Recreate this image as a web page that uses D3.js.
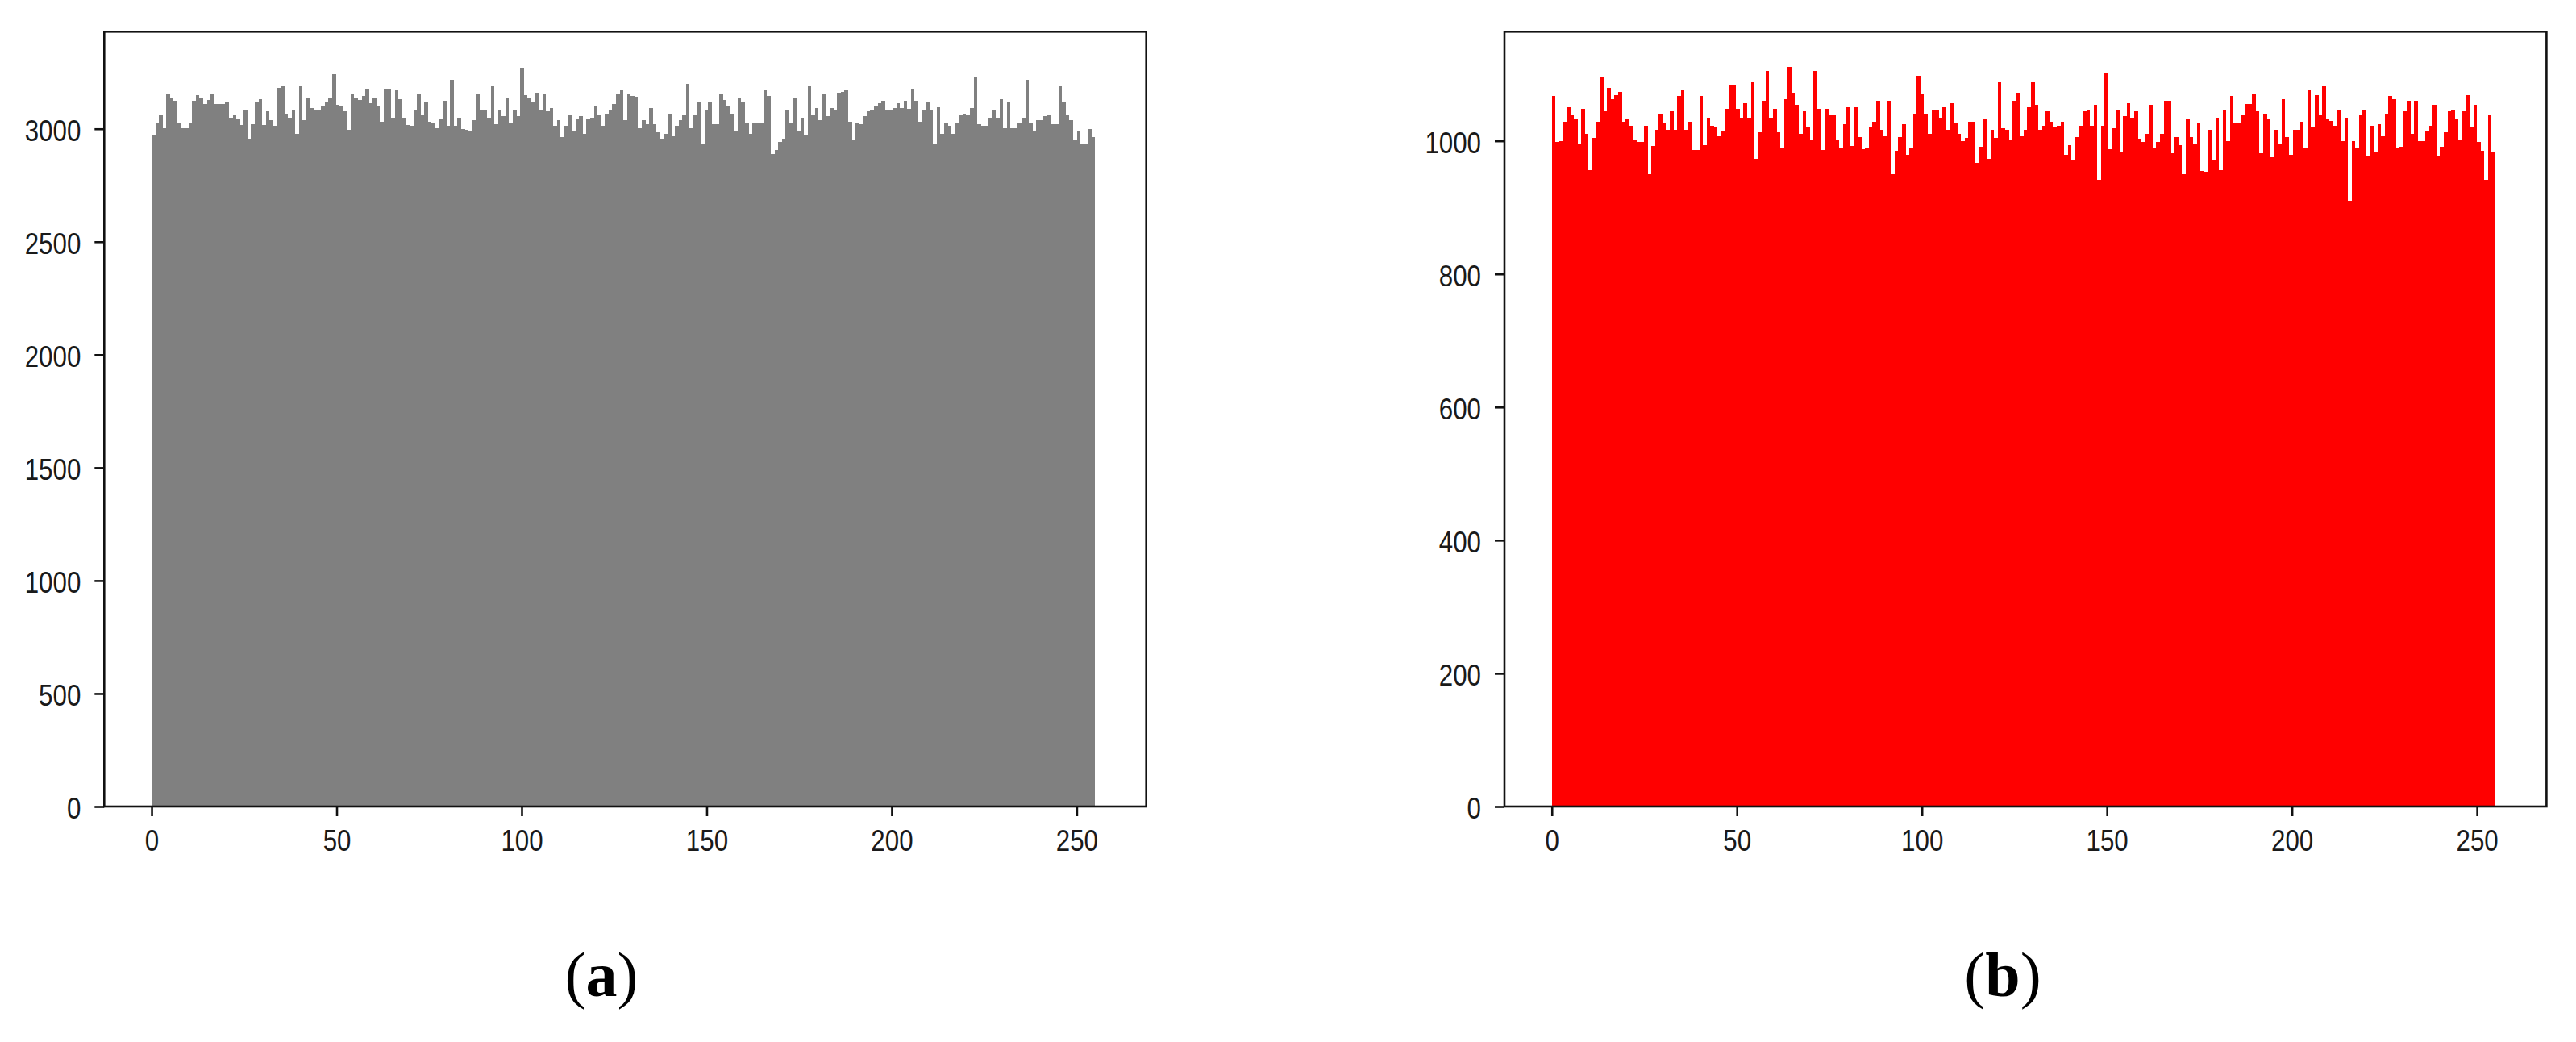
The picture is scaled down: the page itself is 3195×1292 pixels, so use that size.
<!DOCTYPE html>
<html>
<head>
<meta charset="utf-8">
<script src="https://cdn.jsdelivr.net/npm/d3@7"></script>
<style>
  html, body { margin: 0; padding: 0; background: #fff; }
  svg { display: block; }
  .tick text { font-family: "Liberation Sans", Arial, sans-serif; fill: #1a1a1a; }
  .caption { font-family: "Liberation Serif", "Times New Roman", serif; fill: #000; }
</style>
</head>
<body>
<svg id="chart" width="3195" height="1292"></svg>
<script>
// ---- data ----
const pixelLevels = d3.range(256);           // histogram bins 0..255
const xTicks = [0, 50, 100, 150, 200, 250];
const yTicksA = [0, 500, 1000, 1500, 2000, 2500, 3000];
const yTicksB = [0, 200, 400, 600, 800, 1000];
const captions = ["a", "b"];

// (a) grey-level histogram counts
const countsA = [
  2975, 3029, 3060, 3002, 3151, 3139, 3124, 3029, 3002, 3002,
  3026, 3124, 3148, 3133, 3109, 3127, 3151, 3109, 3109, 3109,
  3121, 3050, 3060, 3044, 3017, 3080, 2957, 3020, 3121, 3131,
  3017, 3076, 3040, 3014, 3181, 3187, 3068, 3050, 3086, 2979,
  3187, 3038, 3139, 3092, 3080, 3080, 3104, 3119, 3133, 3243,
  3107, 3098, 3076, 2996, 3151, 3133, 3127, 3145, 3179, 3115,
  3133, 3098, 3032, 3179, 3179, 3050, 3169, 3131, 3050, 3017,
  3014, 3086, 3151, 3064, 3121, 3032, 3024, 3002, 3044, 3124,
  3014, 3217,
  3014, 3050, 3000, 2996, 2990, 3038, 3151, 3086, 3080, 3050,
  3187, 3020, 3086, 3056, 3139, 3029, 3086, 3056, 3270, 3148,
  3139, 3121, 3159, 3086, 3151, 3076, 3092, 3014, 3038, 2964,
  3014, 3064, 2990, 3044, 3056, 2979, 3044, 3050, 3104, 3062,
  3014, 3068, 3086, 3109, 3151, 3169, 3040, 3151, 3145, 3143,
  3002, 3040, 3020, 3092, 3020, 2985, 2957, 2979, 3068, 2967,
  3014, 3038, 3062, 3199, 3002, 3062, 3121, 2931, 3080, 3121,
  3020, 3020, 3151, 3127, 3098, 3068, 2993, 3139, 3121, 3029,
  2979, 3029, 3029, 3029, 3169, 3145, 2889, 2907, 2943, 2955,
  3086, 3029, 3139, 2990, 3050, 2973, 3187, 3064, 3092, 3040,
  3151, 3056, 3092, 3080, 3159, 3163, 3169, 3032, 2949, 3026,
  3020, 3056, 3076, 3083, 3098, 3112, 3124, 3086, 3080, 3092,
  3112, 3092, 3124, 3088, 3179, 3124, 3032, 3083, 3121, 3086,
  2931, 3095, 2979, 3029, 3014, 2979, 3029, 3064, 3068, 3062,
  3092, 3226, 3020, 3014, 3012, 3048, 3086, 3050, 3131, 3002,
  3121, 3002, 3002, 3029, 3050, 3217, 3029, 2993, 3038, 3038,
  3055, 3064, 3020, 3020, 3187, 3121, 3064, 3040, 2949, 2993,
  2931, 2931, 3000, 2964
];

// (b) red-channel histogram counts
const countsB = [
  1067, 998, 1000, 1029, 1050, 1039, 1033, 995, 1048, 1010,
  956, 1004, 1029, 1096, 1045, 1080, 1063, 1069, 1073, 1029,
  1033, 1023, 1001, 998, 998, 1023, 950, 992, 1016, 1041,
  1026, 1016, 1045, 1016, 1067, 1077, 1016, 1029, 986, 986,
  1067, 994, 1035, 1023, 1020, 1007, 1014, 1048, 1083, 1083,
  1048, 1035, 1057, 1035, 1088, 973, 1013, 1060, 1105, 1035,
  1048, 1013, 989, 1063, 1111, 1072, 1054, 1011, 1044, 1020,
  1001, 1105, 1048, 986,
  1048, 1039, 1038, 1001, 989, 1025, 1050, 992, 1050, 1006,
  987, 989, 1020, 1029, 1060, 1016, 1007, 1060, 950, 985,
  1006, 1025, 979, 989, 1041, 1098, 1071, 1041, 1011, 1047,
  1047, 1035, 1050, 1017, 1057, 1028, 1011, 999, 1004, 1029,
  1029, 967, 991, 1032, 973, 1016, 1005, 1088, 1019, 1016,
  1001, 1060, 1072, 1007, 1016, 1050, 1088, 1054, 1016, 1023,
  1044, 1029, 1020, 1022, 1029, 979, 994, 970, 1006, 1023,
  1044, 1047, 1023, 1054, 941, 1023, 1102, 987, 1019, 1047,
  983, 1037, 1057, 1035, 1045, 1003, 998, 1010, 1054, 989,
  998,
  1010, 1060, 1060, 982, 1006, 994, 950, 1032, 1006, 995,
  1028, 955, 954, 1016, 971, 1035, 956, 1047, 999, 1067,
  1026, 1026, 1039, 1055, 1055, 1071, 1045, 982, 1041, 1032,
  975, 1016, 995, 1063, 1006, 979, 1016, 1016, 1029, 989,
  1076, 1020, 1069, 1039, 1082, 1033, 1030, 1023, 1047, 999,
  1035, 910, 1000, 989, 1039, 1047, 977, 1022, 983, 1025,
  1007, 1041, 1067, 1063, 989, 991, 1045, 1060, 1011, 1060,
  999, 999, 1014, 1023, 1054, 977, 991, 1013, 1044, 1047,
  1032, 1001, 1044, 1069, 1020, 1054, 998, 985, 941, 1038,
  983
];

// ---- layout ----
const svg = d3.select("#chart");
const W = 1292.4, TOP = 39.3, BOTTOM = 1000;
const panels = [
  { left: 129.3, counts: countsA, yMax: 3430, yTicks: yTicksA, color: "#808080", capX: 746, cap: captions[0] },
  { left: 1866,  counts: countsB, yMax: 1164, yTicks: yTicksB, color: "#ff0000", capX: 2484, cap: captions[1] }
];
const binW = 255 / 256;
const fontPx = 37, charW = 17.4;
const fmt = d3.format("d");

panels.forEach(p => {
  const x = d3.scaleLinear().domain([-12.8, 268.8]).range([p.left, p.left + W]);
  const y = d3.scaleLinear().domain([0, p.yMax]).range([BOTTOM, TOP]);
  const g = svg.append("g");

  g.append("g")
    .selectAll("rect")
    .data(pixelLevels)
    .join("rect")
    .attr("x", i => x(i * binW))
    .attr("width", i => x((i + 1) * binW) - x(i * binW))
    .attr("y", i => y(p.counts[i]))
    .attr("height", i => y(0) - y(p.counts[i]))
    .attr("fill", p.color)
    .attr("shape-rendering", "crispEdges");

  // frame
  g.append("rect")
    .attr("x", p.left).attr("y", TOP)
    .attr("width", W).attr("height", BOTTOM - TOP)
    .attr("fill", "none").attr("stroke", "#111").attr("stroke-width", 2.6);

  const xa = g.append("g").attr("transform", `translate(0,${BOTTOM})`)
    .call(d3.axisBottom(x).tickValues(xTicks).tickFormat(fmt).tickSize(12).tickSizeOuter(0).tickPadding(17));
  const ya = g.append("g").attr("transform", `translate(${p.left},0)`)
    .call(d3.axisLeft(y).tickValues(p.yTicks).tickFormat(fmt).tickSize(12).tickSizeOuter(0).tickPadding(17));

  [xa, ya].forEach(a => {
    a.select(".domain").remove();
    a.selectAll(".tick line").attr("stroke", "#111").attr("stroke-width", 2.6);
    a.selectAll(".tick text")
      .attr("font-size", fontPx)
      .attr("textLength", function() { return this.textContent.length * charW; })
      .attr("lengthAdjust", "spacingAndGlyphs");
  });
  ya.selectAll(".tick text").attr("dy", "0.39em");

  // caption (a)/(b)
  const cap = g.append("text").attr("class", "caption")
    .attr("x", p.capX).attr("y", 1235)
    .attr("text-anchor", "middle").attr("font-size", 78);
  cap.append("tspan").text("(");
  cap.append("tspan").attr("font-weight", "bold").text(p.cap);
  cap.append("tspan").text(")");
});
</script>
</body>
</html>
